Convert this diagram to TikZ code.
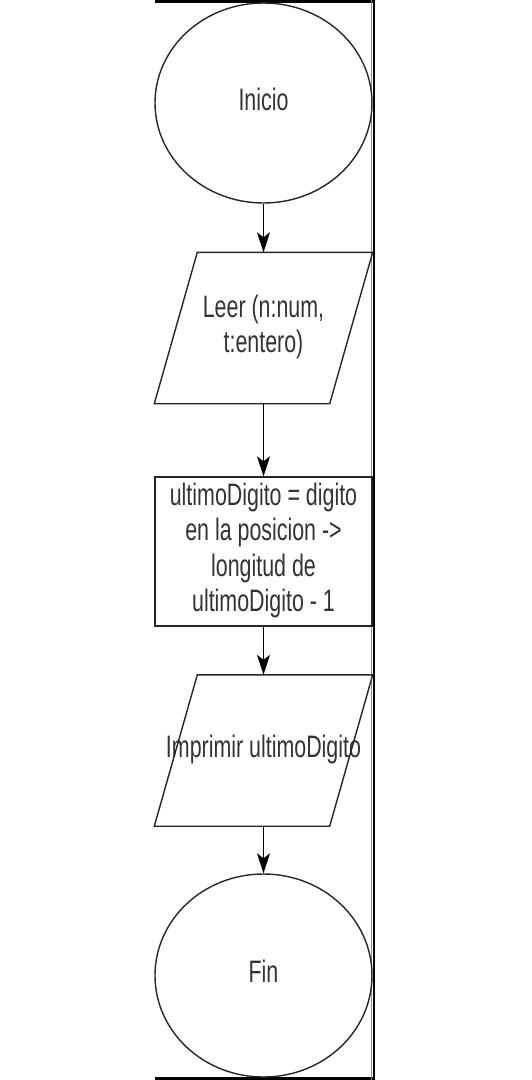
\documentclass[tikz,border=0pt]{standalone}
\usepackage{fontspec}
\setmainfont{Liberation Sans}
\usetikzlibrary{shapes.geometric,arrows.meta,positioning,calc}
\newcommand{\altotexto}[1]{\raisebox{-3.5pt}{\scalebox{1}[1.45]{\begin{tabular}{@{}c@{}}#1\end{tabular}}}}
% paralelogramo sobre un nodo rectangular
\newcommand{\paralelo}[1]{\draw[linea] (#1.south west) -- ($(#1.north west)+(43,0)$)
    -- (#1.north east) -- ($(#1.south east)-(43,0)$) -- cycle;}
\begin{document}
\begin{tikzpicture}[x=1pt, y=1pt,
    linea/.style={draw=black!85, line width=1.4pt},
    forma/.style={linea, inner sep=0pt, text=black!80,
      font=\fontsize{21.4}{24.5}\selectfont},
    ovalo/.style={forma, ellipse, minimum width=217pt, minimum height=200pt},
    caja/.style={forma, rectangle, minimum width=217pt, minimum height=149pt},
    datos/.style={caja, draw=none, minimum height=150pt},
    flecha/.style={-{Stealth[length=20pt, width=13pt, inset=5pt]}, line width=1.4pt}]
    \useasboundingbox (0,0) rectangle (531,-1080);
    % Marco
    \draw[line width=3pt] (155,-1.5) -- (375,-1.5);
    \draw[line width=3pt] (155,-1078.5) -- (375,-1078.5);
    \draw[black!45, line width=0.8pt] (371.5,0) -- (371.5,-1080);
    \draw[line width=2.6pt] (374,0) -- (374,-1080);
    % Pasos
    \node[ovalo] (ini) at (263.5,-103) {\altotexto{Inicio}};
    \node[datos] (leer) at (263.5,-328) {\altotexto{Leer (n:num,\\ t:entero)}};
    \paralelo{leer}
    \node[caja] (calc) at (263.5,-551.5) {\altotexto{ultimoDigito = digito\\ en la posicion ->\\ longitud de\\ ultimoDigito - 1}};
    \node[datos] (impr) at (263.5,-750.5) {\altotexto{Imprimir ultimoDigito}};
    \paralelo{impr}
    \node[ovalo, minimum height=203pt] (fin) at (263.5,-975.5) {\altotexto{Fin}};
    % Flechas
    \draw[flecha] (ini.south) -- (leer.north);
    \draw[flecha] (leer.south) -- (calc.north);
    \draw[flecha] (calc.south) -- (impr.north);
    \draw[flecha] (impr.south) -- (fin.north);
\end{tikzpicture}
\end{document}
